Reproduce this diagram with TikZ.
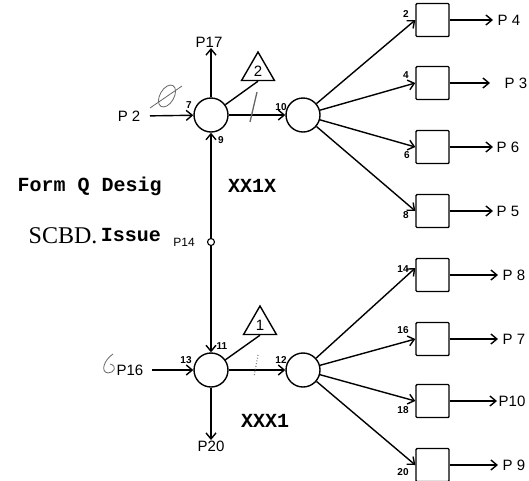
\documentclass[tikz,border=0pt]{standalone}
\usepackage{fontspec}
\setmainfont{Liberation Sans}
\newfontfamily\twfont{Liberation Mono}
\newfontfamily\seriffont{Liberation Serif}
\usetikzlibrary{arrows.meta,shapes.geometric}
\begin{document}
\begin{tikzpicture}[x=1pt,y=-1pt,
  line width=1.4pt,
  arr/.style={-{Straight Barb[length=6pt,width=10pt]}},
  junc/.style={circle,draw,minimum size=34pt,inner sep=0},
  boxn/.style={rectangle,draw,minimum size=33pt,inner sep=0,rounded corners=1pt},
  tri/.style={regular polygon,regular polygon sides=3,draw,minimum size=38pt,inner sep=0,font=\fontsize{15}{15}\selectfont},
  plab/.style={font=\fontsize{15}{15}\selectfont,inner sep=0},
  num/.style={font=\bfseries\fontsize{10}{10}\selectfont,inner sep=0},
  big/.style={font=\twfont\bfseries\fontsize{20}{20}\selectfont,inner sep=0},
  scrib/.style={gray!80!black,line width=0.8pt}
]
\useasboundingbox (0,0) rectangle (529,480);

% junctions
\node[junc] (c1) at (211,115) {};
\node[junc] (c2) at (303,115) {};
\node[junc] (c3) at (211,370) {};
\node[junc] (c4) at (303,370) {};
\node[tri] (t2) at (258,71) {2};
\node[tri] (t1) at (260,325) {1};
\node[circle,draw,minimum size=7pt,inner sep=0,line width=1.1pt] (j14) at (211,242) {};

% boxes
\node[boxn] (b1) at (432.5,20) {};
\node[boxn] (b2) at (432.5,83) {};
\node[boxn] (b3) at (432.5,147) {};
\node[boxn] (b4) at (432.5,211) {};
\node[boxn] (b5) at (432.5,275) {};
\node[boxn] (b6) at (432.5,339) {};
\node[boxn] (b7) at (432.5,401) {};
\node[boxn] (b8) at (432.5,465) {};

% outer labels
\node[plab,anchor=east] (p2) at (141,116) {P 2};
\node[plab,anchor=east] (p16) at (144,370) {P16};
\node[plab,anchor=south] (p17) at (209,48) {P17};
\node[plab,anchor=north] (p20) at (211,440) {P20};
\node[font=\fontsize{12}{12}\selectfont,inner sep=0] (p14) at (184,242) {P14};

\node[plab,anchor=west] (o1) at (497,20) {P 4};
\node[plab,anchor=west] (o2) at (504,83) {P 3};
\node[plab,anchor=west] (o3) at (496,147) {P 6};
\node[plab,anchor=west] (o4) at (496,211) {P 5};
\node[plab,anchor=west] (o5) at (502,275) {P 8};
\node[plab,anchor=west] (o6) at (502,339) {P 7};
\node[plab,anchor=west] (o7) at (498,401) {P10};
\node[plab,anchor=west] (o8) at (502,465) {P 9};

% connectors
\draw[arr,shorten <=9pt] (p2.east) -- (c1);
\draw[arr,shorten <=8pt] (p16.east) -- (c3);
\draw[arr] (c1) -- (c1 |- p17.south);
\draw[arr] (c3) -- (c3 |- p20.north);
\draw[arr] (c1) -- (c2);
\draw[arr] (c3) -- (c4);
\draw (c1) -- (t2.south);
\draw (c3) -- (t1.south);
\draw[arr] (j14) -- (c1);
\draw[arr] (j14) -- (c3);

\draw[arr] (c2) -- (b1.west);
\draw[arr] (c2) -- (b2.west);
\draw[arr] (c2) -- (b3.west);
\draw[arr] (c2) -- (b4.west);
\draw[arr] (c4) -- ([yshift=7pt]b5.west);
\draw[arr] (c4) -- (b6.west);
\draw[arr] (c4) -- (b7.west);
\draw[arr] (c4) -- (b8.west);

\draw[arr,shorten >=4pt] (b1.east) -- (o1.west);
\draw[arr,shorten >=14pt] (b2.east) -- (o2.west);
\draw[arr,shorten >=3pt] (b3.east) -- (o3.west);
\draw[arr,shorten >=3pt] (b4.east) -- (o4.west);
\draw[arr,shorten >=4pt] (b5.east) -- (o5.west);
\draw[arr,shorten >=4pt] (b6.east) -- (o6.west);
\draw[arr,shorten >=1pt] (b7.east) -- (o7.west);
\draw[arr,shorten >=4pt] (b8.east) -- (o8.west);

% small numbers
\node[num] (n7) at (189,105) {7};
\node[num] (n10) at (281,107) {10};
\node[num] (n9) at (221,140) {9};
\node[num] (n11) at (222,346) {11};
\node[num] (n13) at (186,360) {13};
\node[num] (n12) at (281,360) {12};
\node[num] (n2) at (406,14) {2};
\node[num] (n4) at (406,75) {4};
\node[num] (n6) at (407,155) {6};
\node[num] (n8) at (406,215) {8};
\node[num] (n14) at (403,269) {14};
\node[num] (n16) at (403,330) {16};
\node[num] (n18) at (403,410) {18};
\node[num] (n20) at (403,472) {20};

% typed texts
\node[big,anchor=west] (form) at (17,186) {Form Q Desig};
\node[big] (xx1x) at (252,186) {XX1X};
\node[big] (xxx1) at (265,421) {XXX1};
\node[anchor=base west,inner sep=0,font=\seriffont\fontsize{24}{24}\selectfont] (scbd) at (28,243) {SCBD.};
\node[anchor=base west,inner sep=0,xshift=2pt,yshift=2pt,font=\twfont\bfseries\fontsize{20}{20}\selectfont] (issue) at (scbd.base east) {Issue};

% handwritten marks
\draw[scrib,rotate around={-30:(167,96)}] (167,96) ellipse (7 and 12);
\draw[scrib] (150,108) -- (182,86);
\draw[scrib,line width=1.3pt] (257,92) -- (250,122);
\draw[scrib,dotted,line width=1.1pt] (258,355) -- (254,377);
\draw[scrib] (113,354) .. controls (104,360) and (100,372) .. (108,373)
  .. controls (114,373) and (118,366) .. (110,364);
\end{tikzpicture}
\end{document}
